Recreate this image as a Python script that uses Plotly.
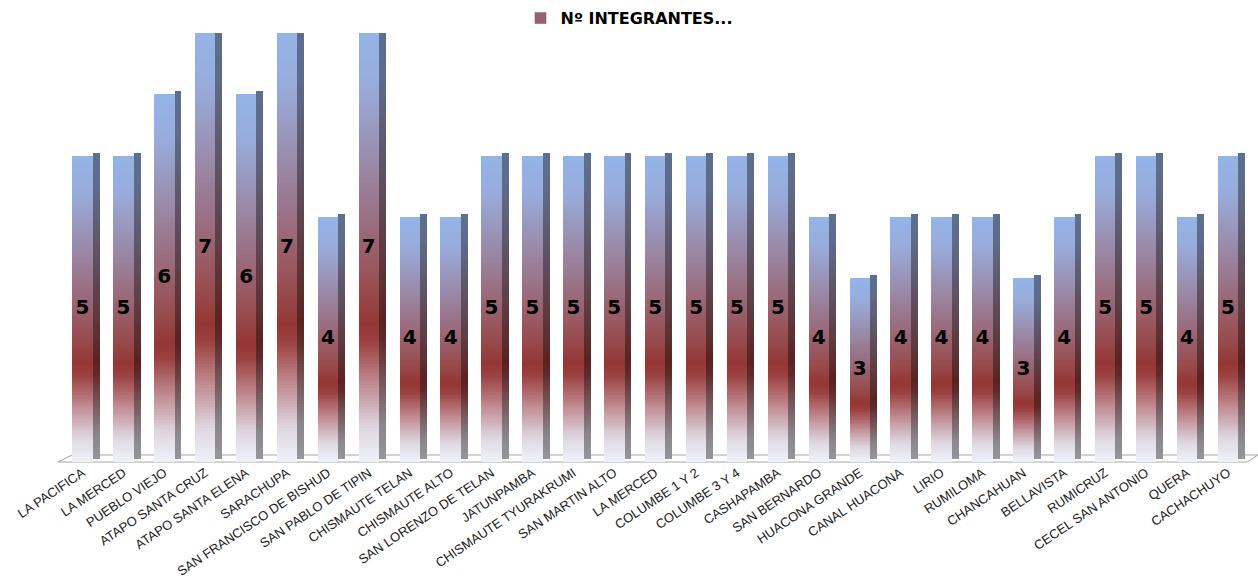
import plotly.graph_objects as go

categories = ["LA PACIFICA", "LA MERCED", "PUEBLO VIEJO", "ATAPO SANTA CRUZ", "ATAPO SANTA ELENA",
              "SARACHUPA", "SAN FRANCISCO DE BISHUD", "SAN PABLO DE TIPIN", "CHISMAUTE TELAN",
              "CHISMAUTE ALTO", "SAN LORENZO DE TELAN", "JATUNPAMBA", "CHISMAUTE TYURAKRUMI",
              "SAN MARTIN ALTO", "LA MERCED", "COLUMBE 1 Y 2", "COLUMBE 3 Y 4", "CASHAPAMBA",
              "SAN BERNARDO", "HUACONA GRANDE", "CANAL HUACONA", "LIRIO", "RUMILOMA",
              "CHANCAHUAN", "BELLAVISTA", "RUMICRUZ", "CECEL SAN ANTONIO", "QUERA", "CACHACHUYO"]
integrantes = [5, 5, 6, 7, 6, 7, 4, 7, 4, 4, 5, 5, 5, 5, 5, 5, 5, 5, 4, 3, 4, 4, 4, 3, 4, 5, 5, 4, 5]
series_name = "Nº INTEGRANTES..."

# gradient stops (fraction of bar height from bottom, colour)
stops = [(0.00, (238, 243, 251)), (0.08, (222, 214, 224)), (0.18, (192, 140, 146)),
         (0.28, (156, 66, 66)), (0.32, (148, 54, 52)), (0.40, (152, 76, 78)),
         (0.56, (154, 110, 128)), (0.72, (154, 142, 176)), (0.88, (152, 172, 220)),
         (1.00, (148, 180, 232))]


def grad(t):
    for (t0, c0), (t1, c1) in zip(stops[:-1], stops[1:]):
        if t0 <= t <= t1:
            f = (t - t0) / (t1 - t0) if t1 > t0 else 0
            return tuple(c0[k] + (c1[k] - c0[k]) * f for k in range(3))
    return stops[-1][1]


def rgb(c, k=1.0):
    return "rgb(%d,%d,%d)" % tuple(max(0, min(255, round(v * k))) for v in c)


x = list(range(len(categories)))
N = 140
fig = go.Figure()

# draw from the top band downwards; each band spans from the floor to its top edge,
# so lower bands overlay upper ones without seams
for i in reversed(range(N)):
    t = (i + 0.5) / N
    c = grad(t)
    top = [v * (i + 1) / N for v in integrantes]
    # side face
    fig.add_trace(go.Bar(x=x, y=top, base=0.05, width=0.17, offset=0.25,
                         marker=dict(color=rgb(c, 0.62), line=dict(width=0)),
                         showlegend=False, hoverinfo="skip"))
    # front face
    fig.add_trace(go.Bar(x=x, y=top, base=0, width=0.5, offset=-0.25,
                         marker=dict(color=rgb(c), line=dict(width=0)),
                         showlegend=False, hoverinfo="skip"))

# legend entry
fig.add_trace(go.Bar(x=[None], y=[None], name=series_name,
                     marker=dict(color="rgb(150,96,112)"), showlegend=True))

# data labels
fig.add_trace(go.Scatter(x=x, y=[v / 2 for v in integrantes], mode="text",
                         text=[str(v) for v in integrantes],
                         textfont=dict(family="DejaVu Sans", size=20, color="#000000", weight="bold"),
                         showlegend=False, hoverinfo="skip", cliponaxis=False))

# floor
fig.add_shape(type="path", xref="paper", yref="paper",
              path="M -0.0034 0 L 0.0084 0.0163 L 1.0067 0.0163 L 0.9975 0 Z",
              fillcolor="white", line=dict(color="#a6a6a6", width=1), layer="below")

fig.update_layout(
    width=1258, height=583,
    margin=dict(l=62, r=8, t=33, b=121, autoexpand=False),
    paper_bgcolor="white", plot_bgcolor="rgba(0,0,0,0)",
    barmode="overlay", bargap=0,
    showlegend=True,
    legend=dict(orientation="h", x=0.5, xanchor="center", xref="container",
                y=0.998, yanchor="top", yref="container",
                font=dict(family="DejaVu Sans", size=16, color="#000000", weight="bold"),
                bgcolor="rgba(0,0,0,0)"),
    xaxis=dict(range=[-0.5, 28.54], tickmode="array", tickvals=x, ticktext=categories,
               tickangle=-34, showgrid=False, zeroline=False, showline=False, ticks="",
               automargin=False,
               tickfont=dict(family="Liberation Sans", size=13, color="#222222")),
    yaxis=dict(range=[0, 7], visible=False, showgrid=False, zeroline=False, automargin=False),
)

fig.write_html("out.html", config={"displayModeBar": False},
               post_script="document.body.style.margin='0';document.body.style.overflow='hidden';")
